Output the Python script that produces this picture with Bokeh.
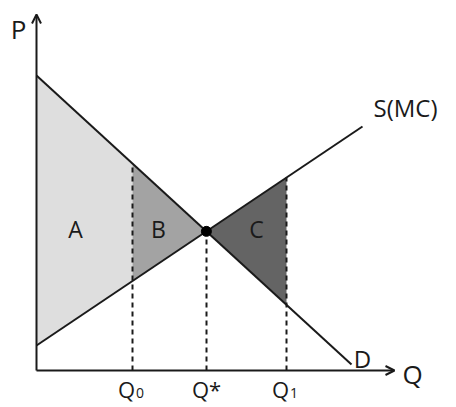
import numpy as np
from bokeh.plotting import figure
from bokeh.models import Arrow, OpenHead
from bokeh.core.properties import value
from bokeh.embed import file_html
from bokeh.resources import INLINE

# --- data ---
demand_q = [0.0, 31.5]
demand_p = [29.5, 0.6]
supply_q = [0.0, 32.6]
supply_p = [2.5, 24.4]
q_marks = [9.6, 17.0, 25.0]
tick_main = ["Q", "Q*", "Q"]
tick_sub = ["0", "", "1"]
area_labels = ["A", "B", "C"]
area_colors = ["#dedede", "#a3a3a3", "#646464"]

FONT = value("Open Sans")
INK = "#1a1a1a"

def dem(q):
    return np.interp(q, demand_q, demand_p)

def sup(q):
    return np.interp(q, supply_q, supply_p)

# equilibrium
bd = (demand_p[1] - demand_p[0]) / (demand_q[1] - demand_q[0])
bs = (supply_p[1] - supply_p[0]) / (supply_q[1] - supply_q[0])
q_star = (supply_p[0] - demand_p[0]) / (bd - bs)
p_star = sup(q_star)

p = figure(width=456, height=407, output_backend="svg", toolbar_location=None,
           x_range=(-3.6, 42.0), y_range=(-3.7, 37.0), min_border=0)
p.axis.visible = False
p.grid.visible = False
p.outline_line_color = None
p.background_fill_color = "white"

# shaded areas
segs = [(0.0, q_marks[0]), (q_marks[0], q_star), (q_star, q_marks[2])]
for (a, b), col in zip(segs, area_colors):
    xs = [a, b, b, a]
    ys = [float(dem(a)), float(dem(b)), float(sup(b)), float(sup(a))]
    p.patch(xs, ys, fill_color=col, line_color=None)

# curves
p.line(demand_q, demand_p, line_color=INK, line_width=2)
p.line(supply_q, supply_p, line_color=INK, line_width=2)

# dashed verticals
tops = [float(dem(q_marks[0])), float(p_star), float(sup(q_marks[2]))]
for q, t in zip(q_marks, tops):
    p.line([q, q], [0, t], line_color=INK, line_width=2, line_dash="5 4")

# equilibrium point
p.scatter([q_star], [p_star], size=10, color="black")

# axes with arrows
p.add_layout(Arrow(x_start=0, y_start=0, x_end=0, y_end=35.6, line_width=2, line_color=INK,
                   end=OpenHead(size=9, line_width=2, line_color=INK)))
p.add_layout(Arrow(x_start=0, y_start=0, x_end=35.8, y_end=0, line_width=2, line_color=INK,
                   end=OpenHead(size=9, line_width=2, line_color=INK)))

# area labels
p.text([3.9, 12.2, 22.0], [14.2, 14.2, 14.2], text=area_labels, text_font=FONT,
       text_font_size="23px", text_align="center", text_baseline="middle", text_color=INK)

# axis labels
p.text([-1.8], [34.2], text=["P"], text_font=FONT, text_font_size="26px",
       text_align="center", text_baseline="middle", text_color=INK)
p.text([37.6], [-0.3], text=["Q"], text_font=FONT, text_font_size="26px",
       text_align="center", text_baseline="middle", text_color=INK)
p.text([33.7], [26.3], text=["S(MC)"], text_font=FONT, text_font_size="24px",
       text_align="left", text_baseline="middle", text_color=INK)
p.text([32.6], [1.2], text=["D"], text_font=FONT, text_font_size="24px",
       text_align="center", text_baseline="middle", text_color=INK)

# tick labels
main_x = [q_marks[0] - 0.6, q_marks[1], q_marks[2] - 0.6]
p.text(main_x, [-1.8] * 3, text=tick_main, text_font=FONT, text_font_size="22px",
       text_align="center", text_baseline="middle", text_color=INK)
sub_x = [q_marks[0] + 0.75, q_marks[1], q_marks[2] + 0.75]
p.text(sub_x, [-2.2] * 3, text=tick_sub, text_font=FONT, text_font_size="14px",
       text_align="center", text_baseline="middle", text_color=INK)

open("out.html", "w").write(file_html(p, INLINE))
